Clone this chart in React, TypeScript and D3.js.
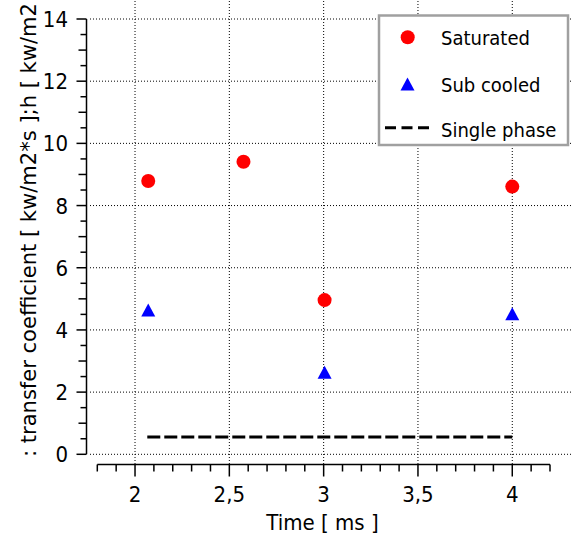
import React from "react";
import * as d3 from "d3";

const satX = [2.07, 2.575, 3.005, 4.0];
const satY = [8.79, 9.41, 4.96, 8.61];
const subX = [2.07, 3.005, 4.0];
const subY = [4.64, 2.64, 4.52];
const singleX = [2.065, 4.0];
const singleY = [0.56, 0.56];
const xTicks = [2, 2.5, 3, 3.5, 4];
const xTickLabels = ["2", "2,5", "3", "3,5", "4"];
const yTicks = [0, 2, 4, 6, 8, 10, 12, 14];
const legendLabels = ["Saturated", "Sub cooled", "Single phase"];
const xTitle = "Time [ ms ]";
const yTitle = ": transfer coefficient [ kw/m2*s ];h [ kw/m2";

const FONT = "'DejaVu Sans Condensed', 'DejaVu Sans', sans-serif";

export default function App() {
  const W = 576, H = 535;
  const x = d3.scaleLinear().domain([1.8, 4.2]).range([97.3, 550]);
  const y = d3.scaleLinear().domain([0, 14]).range([454.3, 19]);
  const axisY = 464.5;
  const axisX = 86.5;

  const xMinor = d3.range(18, 43).map((v) => v / 10);
  const yMinor = d3.range(0, 29).map((v) => v / 2);

  const tri = (cx: number, cy: number, w = 14, h = 13) =>
    `M${cx},${cy - h / 2}L${cx + w / 2},${cy + h / 2}L${cx - w / 2},${cy + h / 2}Z`;

  const line = d3.line<number>().x((d, i) => x(singleX[i])).y((d, i) => y(singleY[i]));

  return (
    <svg width={W} height={H} style={{ position: "absolute", left: 0, top: 0, background: "#fff" }}
      fontFamily={FONT} fontStretch="condensed">
      <rect x={0} y={0} width={W} height={H} fill="#fff" />
      {/* grid */}
      {yTicks.map((t) => (
        <line key={"hg" + t} x1={90} x2={573} y1={y(t)} y2={y(t)} stroke="#000" strokeWidth={1} strokeDasharray="1,2" />
      ))}
      {xTicks.map((t) => (
        <line key={"vg" + t} x1={x(t)} x2={x(t)} y1={1} y2={axisY} stroke="#000" strokeWidth={1} strokeDasharray="1,2" />
      ))}
      {/* y axis */}
      <line x1={axisX} x2={axisX} y1={y(14)} y2={y(0)} stroke="#000" strokeWidth={1.5} />
      {yMinor.map((t) => {
        const len = t % 2 === 0 ? 10 : t % 1 === 0 ? 8 : 6;
        return <line key={"yt" + t} x1={axisX - len} x2={axisX} y1={y(t)} y2={y(t)} stroke="#000" strokeWidth={1.5} />;
      })}
      {yTicks.map((t) => (
        <text key={"yl" + t} x={68} y={y(t) + 8} textAnchor="end" fontSize={22} fill="#000">{t}</text>
      ))}
      {/* x axis */}
      <line x1={x(1.8)} x2={x(4.2)} y1={axisY} y2={axisY} stroke="#000" strokeWidth={1.5} />
      {xMinor.map((t) => {
        const major = Math.abs(t * 2 - Math.round(t * 2)) < 1e-6;
        return <line key={"xt" + t} x1={x(t)} x2={x(t)} y1={axisY} y2={axisY + (major ? 12 : 7)} stroke="#000" strokeWidth={1.5} />;
      })}
      {xTicks.map((t, i) => (
        <text key={"xl" + t} x={x(t)} y={502} textAnchor="middle" fontSize={22} fill="#000">{xTickLabels[i]}</text>
      ))}
      <text x={322.5} y={529.5} textAnchor="middle" fontSize={22} fill="#000">{xTitle}</text>
      <text transform={`translate(36,457) rotate(-90)`} x={0} y={0} fontSize={22} fill="#000"
        textLength={454} lengthAdjust="spacingAndGlyphs">{yTitle}</text>
      {/* data */}
      <path d={line(singleX) || ""} fill="none" stroke="#000" strokeWidth={3} strokeDasharray="13,4" />
      {satX.map((v, i) => (
        <circle key={"s" + i} cx={x(v)} cy={y(satY[i])} r={7} fill="#ff0000" />
      ))}
      {subX.map((v, i) => (
        <path key={"b" + i} d={tri(x(v), y(subY[i]))} fill="#0000ff" />
      ))}
      {/* legend */}
      <rect x={379} y={15.5} width={189} height={129.5} fill="#fff" stroke="#a0a0a0" strokeWidth={2.5} />
      <circle cx={407.7} cy={37.3} r={7} fill="#ff0000" />
      <path d={tri(407.5, 84)} fill="#0000ff" />
      <line x1={385} x2={429} y1={127.7} y2={127.7} stroke="#000" strokeWidth={3} strokeDasharray="11,5.5" />
      {legendLabels.map((l, i) => (
        <text key={l} x={441} y={[44.5, 91.5, 137][i]} fontSize={20} fill="#000">{l}</text>
      ))}
    </svg>
  );
}
